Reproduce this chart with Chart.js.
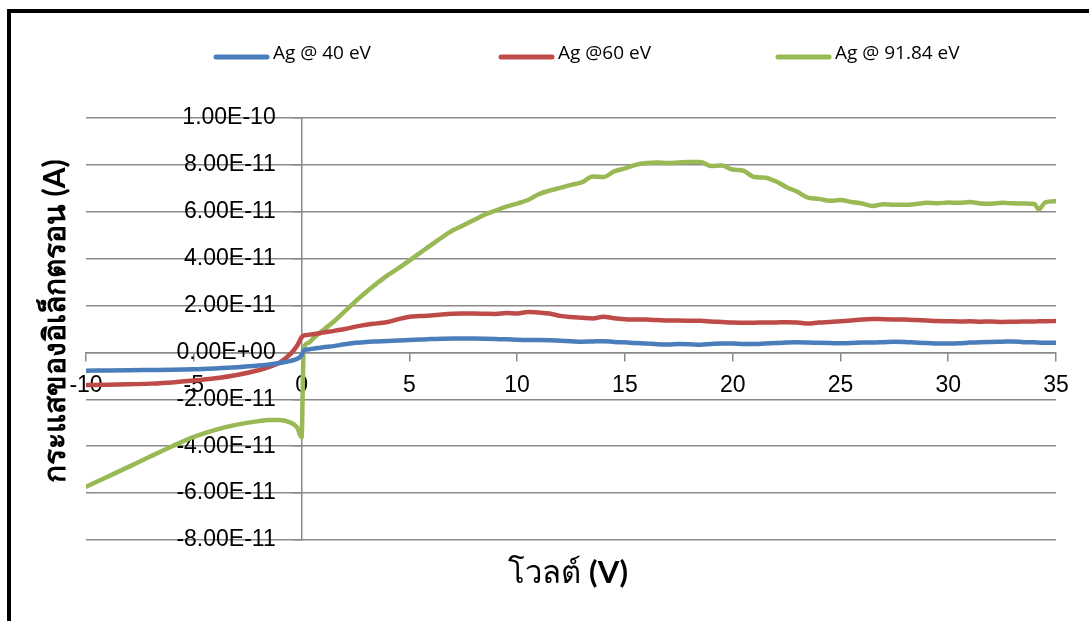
<!DOCTYPE html>
<html>
<head>
<meta charset="utf-8">
<script src="https://cdn.jsdelivr.net/npm/chart.js@4.4.1/dist/chart.umd.min.js"></script>
<style>
  html, body { margin: 0; padding: 0; background: #fff; overflow: hidden; }
  #wrap { position: relative; width: 1089px; height: 621px; overflow: hidden; }
  #frame { position: absolute; left: 7px; top: 9px; width: 1120px; height: 660px;
           border-left: 4px solid #000; border-top: 4px solid #000; box-sizing: border-box; }
  #c { position: absolute; left: 0; top: 0; }
</style>
</head>
<body>
<div id="wrap">
  <div id="frame"></div>
  <canvas id="c" width="1089" height="621"></canvas>
</div>
<script>
// Bias voltage (V)
const voltage = [
  -10, -9, -8, -7, -6, -5, -4, -3, -2, -1.5, -1, -0.5, -0.2, 0, 0.1, 0.3, 0.6,
  1, 1.5, 2, 2.5, 3, 3.5, 4, 4.5, 5, 5.5, 6, 6.5, 7, 7.5, 8, 8.5, 9, 9.5,
  10, 10.5, 11, 11.5, 12, 12.5, 13, 13.5, 14, 14.5, 15, 15.5, 16, 16.5, 17, 17.5,
  18, 18.5, 19, 19.5, 20, 20.5, 21, 21.5, 22, 22.5, 23, 23.5, 24, 24.5, 25, 25.5,
  26, 26.5, 27, 27.5, 28, 28.5, 29, 29.5, 30, 30.5, 31, 31.5, 32, 32.5, 33, 33.5,
  34, 34.2, 34.5, 35
];

// Electron current, in units of 1e-11 A
const ag40 = [
  -0.78, -0.77, -0.76, -0.75, -0.74, -0.72, -0.68, -0.63, -0.56, -0.51, -0.45, -0.36, -0.27, -0.12, 0.08, 0.13, 0.17,
  0.22, 0.27, 0.35, 0.41, 0.45, 0.47, 0.49, 0.51, 0.53, 0.55, 0.57, 0.58, 0.60, 0.60, 0.59, 0.58, 0.57, 0.56,
  0.54, 0.53, 0.53, 0.52, 0.50, 0.48, 0.46, 0.47, 0.48, 0.45, 0.43, 0.40, 0.38, 0.35, 0.34, 0.36,
  0.35, 0.33, 0.36, 0.38, 0.38, 0.36, 0.36, 0.38, 0.40, 0.42, 0.43, 0.42, 0.41, 0.40, 0.39, 0.40,
  0.42, 0.42, 0.44, 0.46, 0.45, 0.42, 0.40, 0.38, 0.38, 0.39, 0.42, 0.44, 0.45, 0.46, 0.47, 0.44,
  0.43, 0.42, 0.41, 0.41
];
const ag60 = [
  -1.39, -1.38, -1.36, -1.33, -1.28, -1.20, -1.10, -0.96, -0.76, -0.62, -0.42, -0.05, 0.30, 0.64, 0.72, 0.75, 0.79,
  0.85, 0.92, 1.00, 1.10, 1.18, 1.24, 1.30, 1.42, 1.52, 1.55, 1.58, 1.62, 1.65, 1.66, 1.66, 1.65, 1.64, 1.68,
  1.66, 1.72, 1.70, 1.66, 1.56, 1.51, 1.48, 1.45, 1.52, 1.46, 1.42, 1.40, 1.40, 1.38, 1.36, 1.36,
  1.35, 1.35, 1.32, 1.30, 1.28, 1.27, 1.27, 1.28, 1.28, 1.29, 1.28, 1.23, 1.28, 1.30, 1.33, 1.36,
  1.41, 1.43, 1.42, 1.41, 1.40, 1.38, 1.36, 1.34, 1.33, 1.32, 1.33, 1.31, 1.32, 1.30, 1.31, 1.32,
  1.32, 1.33, 1.33, 1.34
];
const ag9184 = [
  -5.73, -5.30, -4.87, -4.43, -4.00, -3.60, -3.30, -3.08, -2.93, -2.88, -2.88, -3.00, -3.20, -3.62, 0.15, 0.40, 0.65,
  0.95, 1.32, 1.75, 2.18, 2.58, 2.95, 3.30, 3.60, 3.92, 4.25, 4.58, 4.90, 5.20, 5.42, 5.65, 5.88, 6.05, 6.22,
  6.35, 6.50, 6.75, 6.90, 7.02, 7.15, 7.25, 7.50, 7.48, 7.72, 7.85, 8.00, 8.08, 8.10, 8.08, 8.10,
  8.12, 8.12, 7.95, 7.97, 7.80, 7.75, 7.48, 7.45, 7.30, 7.05, 6.85, 6.60, 6.55, 6.47, 6.50, 6.42,
  6.35, 6.25, 6.32, 6.30, 6.30, 6.33, 6.38, 6.36, 6.40, 6.38, 6.42, 6.35, 6.34, 6.38, 6.36, 6.35,
  6.33, 6.10, 6.40, 6.45
];
const UNIT = 1e-11;

const seriesLabels = ['Ag @ 40 eV', 'Ag @60 eV', 'Ag @ 91.84 eV'];
const seriesColors = ['#4a7ebb', '#be4b48', '#98b954'];

// Axis ranges and tick steps
const xMin = -10, xMax = 35, xStep = 5;
const yMin = -8e-11, yMax = 1e-10, yStep = 2e-11;
// voltage at which the current labels are right-aligned (just left of the 0 V axis)
const yLabelAnchor = -1.2;

const xTitleText = 'โวลต์';
const xTitleUnit = '(V)';
const yTitle = 'กระแสของอิเล็กตรอน (A)';

const tickFont = { family: 'Liberation Sans', size: 23 };
const axisGray = '#8a8a8a';

function toPoints(values) {
  return voltage.map((v, i) => ({ x: v, y: values[i] * UNIT }));
}

// 1.00E-10 style labels
function sciLabel(value) {
  const parts = Number(value).toExponential(2).split('e');
  const exp = parseInt(parts[1], 10);
  const sign = exp < 0 ? '-' : '+';
  return parts[0] + 'E' + sign + String(Math.abs(exp)).padStart(2, '0');
}

// Line-sample key across the top
const seriesKey = {
  id: 'seriesKey',
  afterDraw(chart) {
    const ctx = chart.ctx;
    const starts = [214, 499, 776];
    const sampleLen = 55;
    ctx.save();
    chart.data.datasets.forEach((ds, i) => {
      const x = starts[i];
      ctx.strokeStyle = ds.borderColor;
      ctx.lineWidth = 5;
      ctx.lineCap = 'round';
      ctx.beginPath();
      ctx.moveTo(x + 2, 57);
      ctx.lineTo(x + sampleLen - 2, 57);
      ctx.stroke();
      ctx.fillStyle = '#000';
      ctx.font = '19px "Open Sans"';
      ctx.textAlign = 'left';
      ctx.textBaseline = 'alphabetic';
      ctx.fillText(ds.label, x + sampleLen + 4, 59);
    });
    ctx.restore();
  }
};

// Axis titles: rotated current title on the left, voltage title under the plot
const axisTitles = {
  id: 'axisTitles',
  afterDraw(chart) {
    const { ctx, chartArea } = chart;
    ctx.save();
    ctx.fillStyle = '#000';
    ctx.textBaseline = 'middle';

    ctx.save();
    ctx.translate(55, (chartArea.top + chartArea.bottom) / 2 - 8);
    ctx.rotate(-Math.PI / 2);
    ctx.textAlign = 'center';
    ctx.font = 'bold 30px Lato';
    ctx.fillText(yTitle, 0, 0);
    ctx.restore();

    const plain = '31px Lato';
    const bold = 'bold 31px Lato';
    ctx.font = plain;
    const w1 = ctx.measureText(xTitleText + ' ').width;
    ctx.font = bold;
    const w2 = ctx.measureText(xTitleUnit).width;
    const x0 = (chartArea.left + chartArea.right) / 2 - 3 - (w1 + w2) / 2;
    const y = 573;
    ctx.textAlign = 'left';
    ctx.font = plain;
    ctx.fillText(xTitleText + ' ', x0, y);
    ctx.font = bold;
    ctx.fillText(xTitleUnit, x0 + w1, y);
    ctx.restore();
  }
};

const datasets = [ag40, ag60, ag9184].map((vals, i) => ({
  label: seriesLabels[i],
  data: toPoints(vals),
  borderColor: seriesColors[i],
  backgroundColor: seriesColors[i],
  borderWidth: 4.5,
  pointRadius: 0,
  fill: false,
  cubicInterpolationMode: 'monotone',
  borderCapStyle: 'round',
  borderJoinStyle: 'round',
  xAxisID: 'x',
  yAxisID: 'y'
}));

new Chart(document.getElementById('c'), {
  type: 'line',
  data: { datasets },
  plugins: [seriesKey, axisTitles],
  options: {
    responsive: false,
    animation: false,
    events: [],
    layout: { padding: { top: 118, right: 33, bottom: 0, left: 0 } },
    plugins: { legend: { display: false }, tooltip: { enabled: false } },
    scales: {
      x: {
        type: 'linear', position: 'bottom', min: xMin, max: xMax,
        ticks: { display: false, stepSize: xStep },
        grid: { display: false },
        border: { display: false },
        afterFit(scale) { scale.height = 81; }
      },
      y: {
        type: 'linear', position: 'left', min: yMin, max: yMax,
        ticks: { display: false, stepSize: yStep },
        grid: { color: axisGray, lineWidth: 1.5, drawTicks: false },
        border: { display: false },
        afterFit(scale) { scale.width = 86; }
      },
      x0: {
        type: 'linear', axis: 'x', position: { y: 0 }, min: xMin, max: xMax,
        ticks: { stepSize: xStep, color: '#000', font: tickFont, padding: 11, maxRotation: 0, autoSkip: false },
        grid: { drawOnChartArea: false, color: axisGray, lineWidth: 1.5, tickLength: 8 },
        border: { color: axisGray, width: 1.5 }
      },
      y0: {
        type: 'linear', axis: 'y', position: { x: 0 }, min: yMin, max: yMax,
        ticks: { display: false, stepSize: yStep },
        grid: { drawOnChartArea: false, color: axisGray, lineWidth: 1.5, tickLength: 8 },
        border: { color: axisGray, width: 1.5 }
      },
      yLabels: {
        type: 'linear', axis: 'y', position: { x: yLabelAnchor }, min: yMin, max: yMax,
        ticks: { stepSize: yStep, color: '#000', font: tickFont, callback: sciLabel },
        grid: { display: false },
        border: { display: false }
      }
    }
  }
});
</script>
</body>
</html>
